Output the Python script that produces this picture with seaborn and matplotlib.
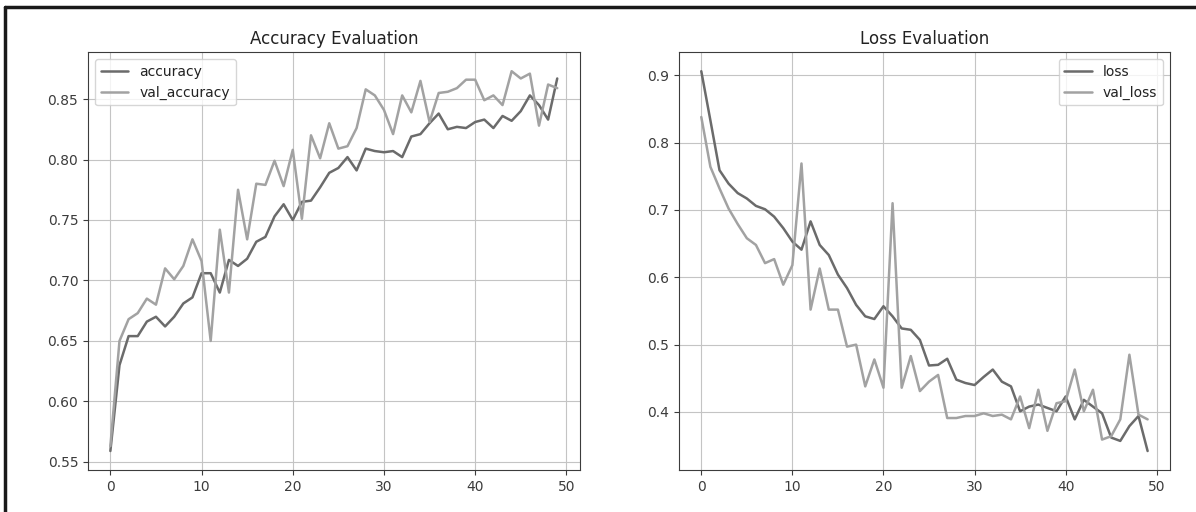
import numpy as np
import pandas as pd
import matplotlib
matplotlib.use("Agg")
import matplotlib.pyplot as plt
import seaborn as sns
from matplotlib.lines import Line2D

# values
epochs = list(range(50))
accuracy = [0.559, 0.630, 0.654, 0.654, 0.666, 0.670, 0.662, 0.670, 0.681, 0.686,
            0.706, 0.706, 0.690, 0.717, 0.712, 0.718, 0.732, 0.736, 0.753, 0.763,
            0.750, 0.765, 0.766, 0.777, 0.789, 0.793, 0.802, 0.791, 0.809, 0.807,
            0.806, 0.807, 0.802, 0.819, 0.821, 0.830, 0.838, 0.825, 0.827, 0.826,
            0.831, 0.833, 0.826, 0.836, 0.832, 0.840, 0.853, 0.845, 0.833, 0.867]
val_accuracy = [0.563, 0.650, 0.668, 0.673, 0.685, 0.680, 0.710, 0.701, 0.712, 0.734,
                0.716, 0.650, 0.742, 0.690, 0.775, 0.734, 0.780, 0.779, 0.799, 0.778,
                0.808, 0.751, 0.820, 0.801, 0.830, 0.809, 0.811, 0.826, 0.858, 0.853,
                0.841, 0.821, 0.853, 0.839, 0.865, 0.831, 0.855, 0.856, 0.859, 0.866,
                0.866, 0.849, 0.853, 0.845, 0.873, 0.867, 0.871, 0.828, 0.862, 0.859]
loss = [0.906, 0.833, 0.759, 0.739, 0.725, 0.717, 0.706, 0.701, 0.690, 0.673,
        0.653, 0.641, 0.683, 0.648, 0.633, 0.604, 0.584, 0.559, 0.542, 0.538,
        0.557, 0.542, 0.524, 0.522, 0.507, 0.469, 0.470, 0.479, 0.448, 0.443,
        0.440, 0.452, 0.463, 0.445, 0.438, 0.401, 0.408, 0.411, 0.406, 0.401,
        0.423, 0.389, 0.418, 0.408, 0.398, 0.362, 0.357, 0.379, 0.394, 0.342]
val_loss = [0.838, 0.764, 0.732, 0.702, 0.679, 0.658, 0.648, 0.621, 0.627, 0.589,
            0.618, 0.769, 0.552, 0.613, 0.552, 0.552, 0.497, 0.500, 0.438, 0.478,
            0.436, 0.710, 0.436, 0.483, 0.431, 0.445, 0.455, 0.391, 0.391, 0.394,
            0.394, 0.398, 0.394, 0.396, 0.389, 0.423, 0.376, 0.433, 0.372, 0.413,
            0.416, 0.463, 0.401, 0.433, 0.359, 0.364, 0.389, 0.485, 0.396, 0.389]

dark = "#6b6b6b"
light = "#a2a2a2"

sns.set_style("ticks", rc={
    "axes.grid": True,
    "grid.color": "#c4c4c4",
    "grid.linewidth": 1.0,
    "axes.edgecolor": "#3c3c3c",
    "axes.linewidth": 1.2,
    "xtick.color": "#3c3c3c",
    "ytick.color": "#3c3c3c",
    "text.color": "#222222",
    "axes.labelcolor": "#222222",
})
plt.rcParams["font.family"] = ["DejaVu Sans"]

fig = plt.figure(figsize=(11.96, 5.12), dpi=100)
ax1 = fig.add_axes([0.0736, 0.082, 0.411, 0.816])
ax2 = fig.add_axes([0.5677, 0.082, 0.4105, 0.816])

sns.lineplot(x=epochs, y=accuracy, ax=ax1, color=dark, linewidth=1.8, label="accuracy")
sns.lineplot(x=epochs, y=val_accuracy, ax=ax1, color=light, linewidth=1.8, label="val_accuracy")
ax1.set_title("Accuracy Evaluation", fontsize=12)
ax1.set_yticks([0.55, 0.60, 0.65, 0.70, 0.75, 0.80, 0.85])
ax1.legend(loc="upper left", fontsize=10)

sns.lineplot(x=epochs, y=loss, ax=ax2, color=dark, linewidth=1.8, label="loss")
sns.lineplot(x=epochs, y=val_loss, ax=ax2, color=light, linewidth=1.8, label="val_loss")
ax2.set_title("Loss Evaluation", fontsize=12)
ax2.set_yticks([0.4, 0.5, 0.6, 0.7, 0.8, 0.9])
ax2.legend(loc="upper right", fontsize=10)

for ax in (ax1, ax2):
    ax.set_xticks([0, 10, 20, 30, 40, 50])
    ax.tick_params(labelsize=10)
    ax.set_xlabel("")
    ax.set_ylabel("")

# scanned frame edges (top and left)
fig.add_artist(Line2D([0.004, 1.0], [0.986, 0.986], transform=fig.transFigure,
                      color="#1a1a1a", linewidth=2.5))
fig.add_artist(Line2D([0.004, 0.004], [0.0, 0.986], transform=fig.transFigure,
                      color="#1a1a1a", linewidth=2.5))

fig.savefig("out.png", dpi=100, facecolor="white")
